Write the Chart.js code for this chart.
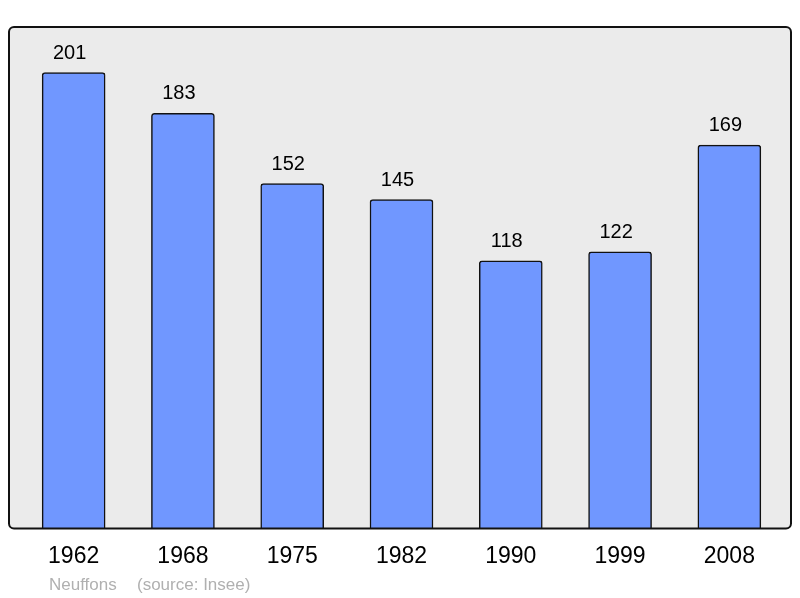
<!DOCTYPE html>
<html>
<head>
<meta charset="utf-8">
<script src="https://cdn.jsdelivr.net/npm/chart.js@4"></script>
<style>
  html, body { margin: 0; padding: 0; background: #fff; }
  #wrap { width: 800px; height: 598px; }
</style>
</head>
<body>
<div id="wrap"><canvas id="chart" width="800" height="598"></canvas></div>
<script>
// population by census year
const years = ['1962', '1968', '1975', '1982', '1990', '1999', '2008'];
const population = [201, 183, 152, 145, 118, 122, 169];
const townName = 'Neuffons';
const sourceNote = '(source: Insee)';

// grey box behind the bars, a bit wider than the category area
const framePlugin = {
  id: 'frame',
  beforeDatasetsDraw(chart) {
    const { ctx, chartArea: a } = chart;
    ctx.save();
    ctx.beginPath();
    ctx.roundRect(a.left - 10, a.top, a.right - a.left + 17, a.bottom - a.top, 5);
    ctx.fillStyle = '#ebebeb';
    ctx.fill();
    ctx.restore();
  },
  afterDatasetsDraw(chart) {
    const { ctx, chartArea: a } = chart;
    ctx.save();
    ctx.beginPath();
    ctx.roundRect(a.left - 10, a.top, a.right - a.left + 17, a.bottom - a.top, 5);
    ctx.lineWidth = 2;
    ctx.strokeStyle = '#111';
    ctx.stroke();
    ctx.restore();
  }
};

// value above each bar + footer text
const labelsPlugin = {
  id: 'valueLabels',
  afterDraw(chart) {
    const { ctx } = chart;
    const meta = chart.getDatasetMeta(0);
    ctx.save();
    ctx.font = '20px "Liberation Sans", Arial, sans-serif';
    ctx.fillStyle = '#000';
    ctx.textAlign = 'center';
    ctx.textBaseline = 'alphabetic';
    meta.data.forEach((bar, i) => {
      ctx.fillText(String(population[i]), bar.x - 4, bar.y - 14);
    });
    ctx.font = '17px "Liberation Sans", Arial, sans-serif';
    ctx.fillStyle = '#b0b0b0';
    ctx.textAlign = 'left';
    ctx.fillText(townName, 49, 590);
    ctx.fillText(sourceNote, 137, 590);
    ctx.restore();
  }
};

new Chart(document.getElementById('chart'), {
  type: 'bar',
  data: {
    labels: years,
    datasets: [{
      data: population,
      backgroundColor: '#7097ff',
      borderColor: '#111',
      borderWidth: 1.5,
      borderSkipped: 'bottom',
      borderRadius: { topLeft: 3, topRight: 3, bottomLeft: 0, bottomRight: 0 },
      barThickness: 63
    }]
  },
  options: {
    responsive: false,
    animation: false,
    layout: { padding: { left: 19, right: 16, top: 27, bottom: 14 } },
    plugins: {
      legend: { display: false },
      tooltip: { enabled: false },
      title: { display: false }
    },
    scales: {
      x: {
        grid: { display: false, drawTicks: false },
        border: { display: false },
        ticks: {
          color: '#000',
          padding: 14,
          font: { family: '"Liberation Sans", Arial, sans-serif', size: 23 }
        }
      },
      y: {
        display: false,
        min: 0,
        max: 221.1
      }
    }
  },
  plugins: [framePlugin, labelsPlugin]
});
</script>
</body>
</html>
